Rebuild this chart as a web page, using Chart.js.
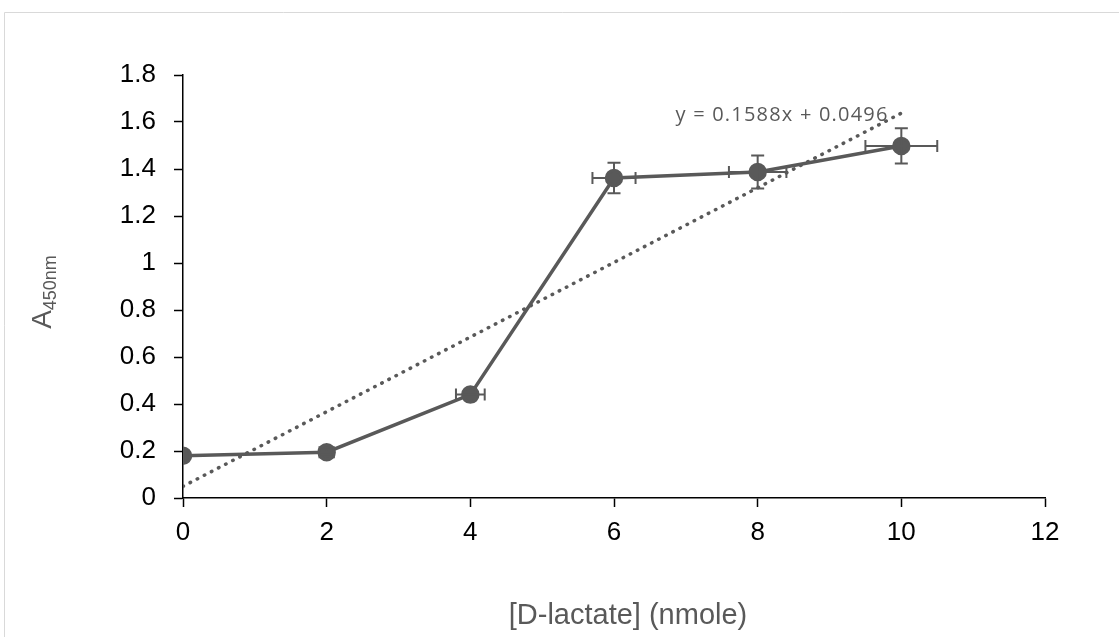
<!DOCTYPE html>
<html><head><meta charset="utf-8">
<script src="https://cdn.jsdelivr.net/npm/chart.js@4/dist/chart.umd.min.js"></script>
<style>html,body{margin:0;padding:0;background:#fff}#wrap{width:1119px;height:637px}</style>
</head><body><div id="wrap"><canvas id="c" width="1119" height="637"></canvas></div>
<script>
const xValues = [0, 2, 4, 6, 8, 10];
const yValues = [0.18, 0.195, 0.44, 1.362, 1.387, 1.498];
const yErr = [0, 0.01, 0.01, 0.065, 0.07, 0.075];
const xErr = [0, 0.1, 0.2, 0.3, 0.4, 0.5];
const trendX = [0, 10];
const trendY = [0.0496, 1.6376];
const equationText = "y = 0.1588x + 0.0496";
const xTitle = "[D-lactate] (nmole)";
const yTitleMain = "A";
const yTitleSub = "450nm";

const GRAY = '#595959';
const FONT = '"Liberation Sans", Arial, sans-serif';
const pts = xValues.map((x,i)=>({x, y:yValues[i]}));
const trend = trendX.map((x,i)=>({x, y:trendY[i]}));

const framePlugin = {
  id:'frame',
  beforeDraw(chart){
    const c = chart.ctx;
    c.save();
    c.fillStyle='#fff'; c.fillRect(0,0,chart.width,chart.height);
    c.strokeStyle='#d9d9d9'; c.lineWidth=1;
    c.beginPath(); c.moveTo(4.5,700); c.lineTo(4.5,12.5); c.lineTo(1200,12.5); c.stroke();
    c.restore();
  }
};
const errPlugin = {
  id:'err',
  afterDatasetsDraw(chart){
    const c = chart.ctx, xs = chart.scales.x, ys = chart.scales.y;
    c.save(); c.strokeStyle=GRAY; c.lineWidth=2;
    xValues.forEach((x,i)=>{
      const px = xs.getPixelForValue(x), py = ys.getPixelForValue(yValues[i]);
      if (yErr[i]>0){
        const t = ys.getPixelForValue(yValues[i]+yErr[i]), b = ys.getPixelForValue(yValues[i]-yErr[i]);
        c.beginPath(); c.moveTo(px,t); c.lineTo(px,b);
        c.moveTo(px-6.5,t); c.lineTo(px+6.5,t); c.moveTo(px-6.5,b); c.lineTo(px+6.5,b); c.stroke();
      }
      if (xErr[i]>0){
        const l = xs.getPixelForValue(x-xErr[i]), r = xs.getPixelForValue(x+xErr[i]);
        c.beginPath(); c.moveTo(l,py); c.lineTo(r,py);
        c.moveTo(l,py-6); c.lineTo(l,py+6); c.moveTo(r,py-6); c.lineTo(r,py+6); c.stroke();
      }
    });
    // equation
    c.fillStyle=GRAY; c.font='20px "Open Sans", "Liberation Sans", sans-serif';
    try { c.letterSpacing = '1.2px'; } catch(e) {}
    c.textAlign='center'; c.textBaseline='middle';
    c.fillText(equationText, xs.getPixelForValue(8.34), ys.getPixelForValue(1.628));
    try { c.letterSpacing = '0px'; } catch(e) {}
    // x title
    c.font='29px ' + FONT;
    c.textAlign='center'; c.textBaseline='middle';
    c.fillText(xTitle, (xs.left+xs.right)/2 + 14, 616);
    // y title with subscript
    c.translate(41, 292); c.rotate(-Math.PI/2);
    c.font='28px ' + FONT;
    const wA = c.measureText(yTitleMain).width;
    c.font='18px ' + FONT;
    const wS = c.measureText(yTitleSub).width;
    const start = -(wA+wS)/2;
    c.textAlign='left'; c.textBaseline='alphabetic';
    c.font='28px ' + FONT;
    c.fillText(yTitleMain, start, 10);
    c.font='18px ' + FONT;
    c.fillText(yTitleSub, start+wA, 15);
    c.restore();
  }
};

new Chart(document.getElementById('c'), {
  type:'scatter',
  data:{datasets:[
    {data:trend, showLine:true, borderColor:GRAY, borderWidth:3.5, borderDash:[0.5,7.5], borderCapStyle:'round', pointRadius:0, fill:false, order:2},
    {data:pts, showLine:true, borderColor:GRAY, backgroundColor:GRAY, borderWidth:3.5, pointRadius:7.5, pointHoverRadius:7.5, order:1}
  ]},
  options:{
    responsive:false, animation:false, events:[],
    layout:{padding:{top:75, right:74, left:0, bottom:0}},
    plugins:{legend:{display:false}, tooltip:{enabled:false}},
    scales:{
      x:{type:'linear', min:0, max:12,
        ticks:{stepSize:2, color:'#000', font:{family:FONT, size:26}, padding:10},
        grid:{drawOnChartArea:false, drawTicks:true, tickLength:9, color:'#000', tickWidth:1.5},
        border:{color:'#000', width:1.5},
        title:{display:false, text:xTitle},
        afterFit(s){ s.height = 139; }
      },
      y:{type:'linear', min:0, max:1.8,
        ticks:{stepSize:0.2, color:'#000', font:{family:FONT, size:26}, padding:18,
          callback:v=>Math.round(v*10)/10+''},
        grid:{drawOnChartArea:false, drawTicks:true, tickLength:9, color:'#000', tickWidth:1.5},
        border:{color:'#000', width:1.5},
        afterFit(s){ s.width = 183; }
      }
    }
  },
  plugins:[framePlugin, errPlugin]
});
</script></body></html>
